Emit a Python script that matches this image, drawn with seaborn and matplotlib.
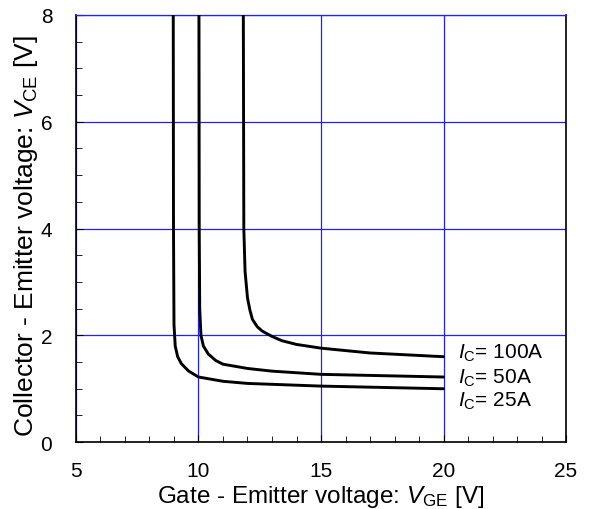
import numpy as np
import pandas as pd
import seaborn as sns
import matplotlib
matplotlib.use("Agg")
import matplotlib.pyplot as plt
from matplotlib.ticker import MultipleLocator

# curve data (VGE [V], VCE [V])
vge_25a = [8.97, 8.98, 9.0, 9.05, 9.15, 9.3, 9.6, 10.0, 11.0, 12.0, 15.0, 18.0, 20.0]
vce_25a = [8.0, 4.0, 2.2, 1.8, 1.6, 1.47, 1.33, 1.22, 1.14, 1.1, 1.05, 1.02, 1.0]

vge_50a = [10.02, 10.03, 10.05, 10.1, 10.2, 10.4, 10.7, 11.0, 12.0, 13.0, 15.0, 18.0, 20.0]
vce_50a = [8.0, 4.0, 2.5, 2.0, 1.8, 1.65, 1.53, 1.46, 1.38, 1.33, 1.27, 1.24, 1.22]

vge_100a = [11.83, 11.85, 11.9, 12.0, 12.1, 12.2, 12.4, 12.6, 13.0, 13.4, 14.0, 15.0, 17.0, 20.0]
vce_100a = [8.0, 4.0, 3.2, 2.7, 2.47, 2.3, 2.16, 2.08, 1.98, 1.9, 1.83, 1.76, 1.67, 1.6]

curve_labels = ["100A", "50A", "25A"]
label_y = [1.69, 1.22, 0.79]

sns.set_style("white")
plt.rcParams['font.family'] = ['Liberation Sans', 'DejaVu Sans']
plt.rcParams['mathtext.fontset'] = 'custom'
plt.rcParams['mathtext.rm'] = 'Liberation Sans'
plt.rcParams['mathtext.it'] = 'Liberation Sans:italic'
plt.rcParams['text.color'] = 'black'
plt.rcParams['axes.labelcolor'] = 'black'
plt.rcParams['xtick.color'] = 'black'
plt.rcParams['ytick.color'] = 'black'

fig = plt.figure(figsize=(5.89, 5.10), dpi=100)
ax = fig.add_axes([0.129, 0.131, 0.832, 0.838])

for xs, ys in [(vge_25a, vce_25a), (vge_50a, vce_50a), (vge_100a, vce_100a)]:
    df = pd.DataFrame({"vge": xs, "vce": ys})
    sns.lineplot(data=df, x="vge", y="vce", sort=False, estimator=None,
                 color="black", linewidth=2.1, ax=ax, zorder=3)

for lab, yy in zip(curve_labels, label_y):
    ax.text(20.6, yy, r"$\mathit{I}_{\mathrm{C}}$= " + lab, fontsize=15,
            va="center", ha="left")

ax.set_xlim(5, 25)
ax.set_ylim(0, 8)
ax.xaxis.set_major_locator(MultipleLocator(5))
ax.xaxis.set_minor_locator(MultipleLocator(1))
ax.yaxis.set_major_locator(MultipleLocator(2))
ax.yaxis.set_minor_locator(MultipleLocator(0.5))
ax.grid(True, which="major", color="#2020ff", linewidth=0.9)
ax.tick_params(which="both", direction="in", bottom=True, left=True,
               top=False, right=False, color="black")
ax.tick_params(which="major", length=5, width=0.8, labelsize=15)
ax.tick_params(which="minor", length=4, width=0.6)
ax.tick_params(axis="x", which="major", pad=13.5)
ax.tick_params(axis="y", which="major", pad=17)

for s in ax.spines.values():
    s.set_color("black")
    s.set_linewidth(1.2)
ax.spines["top"].set_color("#2020ff")
ax.spines["top"].set_linewidth(0.9)

ax.set_xlabel(r"Gate - Emitter voltage: $\mathit{V}_{\mathrm{GE}}$ [V]",
              fontsize=17.5, labelpad=2.5)
ax.set_ylabel(r"Collector - Emitter voltage: $\mathit{V}_{\mathrm{CE}}$ [V]",
              fontsize=19)
ax.yaxis.set_label_coords(-0.074, 0.485)

fig.savefig("out.png", dpi=100)
